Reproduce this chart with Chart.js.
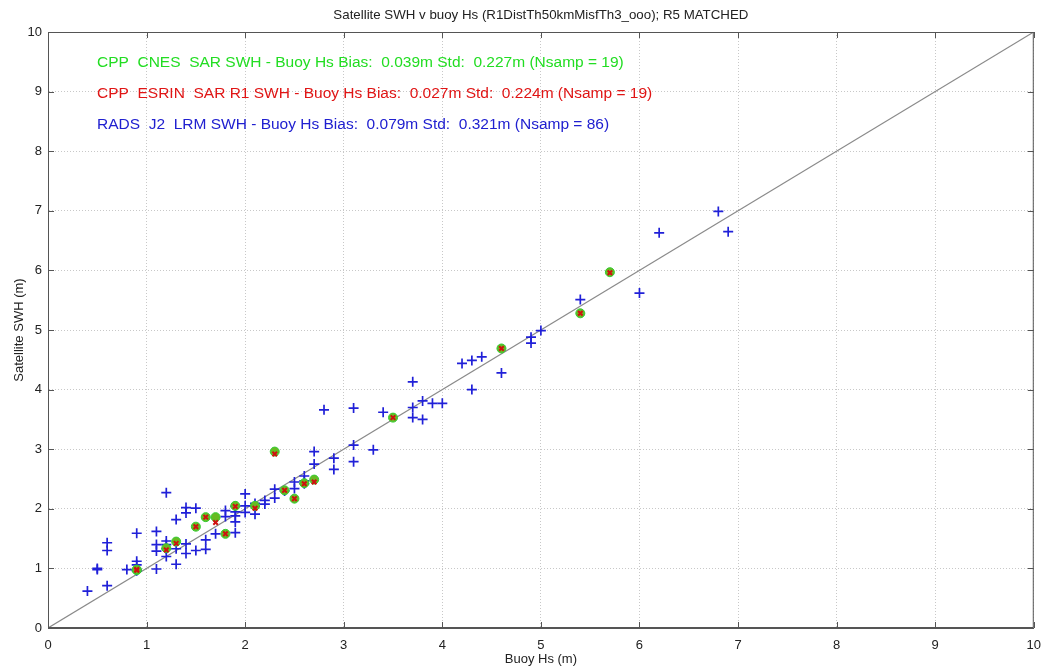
<!DOCTYPE html>
<html>
<head>
<meta charset="utf-8">
<script src="https://cdn.jsdelivr.net/npm/chart.js@4.4.1/dist/chart.umd.min.js"></script>
<style>
html,body{margin:0;padding:0;background:#fff;}
#wrap{position:relative;width:1051px;height:668px;}
</style>
</head>
<body>
<div id="wrap"><canvas id="c" width="1051" height="668"></canvas></div>
<script>
// ---- Data ----
const titleText = "Satellite SWH v buoy Hs (R1DistTh50kmMisfTh3_ooo); R5 MATCHED";
const xAxisLabel = "Buoy Hs (m)";
const yAxisLabel = "Satellite SWH (m)";
const tickValues = [0,1,2,3,4,5,6,7,8,9,10];
const statLines = [
  "CPP  CNES  SAR SWH - Buoy Hs Bias:  0.039m Std:  0.227m (Nsamp = 19)",
  "CPP  ESRIN  SAR R1 SWH - Buoy Hs Bias:  0.027m Std:  0.224m (Nsamp = 19)",
  "RADS  J2  LRM SWH - Buoy Hs Bias:  0.079m Std:  0.321m (Nsamp = 86)"
];

// RADS J2 LRM (blue +)
const radsX = [0.4,0.5,0.5,0.6,0.6,0.6,0.8,0.9,0.9,0.9,0.9,1.1,1.1,1.1,1.1,1.2,1.2,1.2,1.2,
  1.3,1.3,1.3,1.4,1.4,1.4,1.4,1.5,1.5,1.6,1.6,1.7,1.8,1.8,1.9,1.9,1.9,1.9,2.0,2.0,2.0,
  2.1,2.1,2.2,2.2,2.3,2.3,2.5,2.5,2.6,2.6,2.7,2.7,2.8,2.9,2.9,3.1,3.1,3.1,3.3,3.4,
  3.7,3.7,3.7,3.8,3.8,3.9,4.0,4.2,4.3,4.3,4.4,4.6,4.9,4.9,5.0,5.4,6.0,6.2,6.8,6.9,
  0.9,1.2,1.9,2.1,2.4,2.6];
const radsY = [0.62,0.98,1.00,1.43,1.30,0.71,0.98,1.59,1.12,1.06,0.96,1.62,1.40,1.29,0.99,2.27,1.46,1.40,1.20,
  1.82,1.33,1.07,2.02,1.93,1.41,1.25,2.01,1.30,1.48,1.32,1.58,1.97,1.87,1.95,1.88,1.78,1.60,2.25,2.05,1.94,
  2.09,1.91,2.14,2.08,2.33,2.18,2.45,2.34,2.55,2.47,2.96,2.75,3.66,2.85,2.66,3.69,3.07,2.79,2.99,3.62,
  4.13,3.70,3.53,3.81,3.50,3.77,3.77,4.44,4.49,4.00,4.55,4.28,4.88,4.78,4.99,5.51,5.62,6.63,6.99,6.65,
  0.98,1.33,2.04,2.04,2.30,2.42];

// CPP CNES SAR (green circles)
const cnesX = [0.9,0.9,1.2,1.3,1.5,1.6,1.7,1.8,1.9,2.1,2.3,2.4,2.5,2.6,2.7,3.5,4.6,5.4,5.7];
const cnesY = [0.97,0.98,1.34,1.45,1.70,1.86,1.86,1.58,2.05,2.05,2.96,2.31,2.17,2.43,2.49,3.53,4.69,5.28,5.97];

// CPP ESRIN SAR R1 (red x)
const esrinX = [0.9,0.9,1.2,1.3,1.5,1.6,1.7,1.8,1.9,2.1,2.3,2.4,2.5,2.6,2.7,3.5,4.6,5.4,5.7];
const esrinY = [0.97,0.98,1.31,1.42,1.70,1.86,1.77,1.58,2.04,2.01,2.92,2.31,2.17,2.42,2.45,3.53,4.69,5.28,5.96];

// 1:1 reference line end points
const refLineX = [0,10];
const refLineY = [0,10];

const toPts = (xs, ys) => xs.map((x,i)=>({x:x, y:ys[i]}));

const FONT = '"Liberation Sans", Arial, sans-serif';

const decor = {
  id: 'decor',
  afterDraw(chart) {
    const ctx = chart.ctx;
    const a = chart.chartArea;
    const xs = chart.scales.x, ys = chart.scales.y;
    ctx.save();
    // box
    ctx.strokeStyle = '#555';
    ctx.lineWidth = 1;
    ctx.strokeRect(a.left + 0.5, a.top + 0.5, a.right - a.left - 1, a.bottom - a.top - 1);
    // inward ticks on all sides
    ctx.beginPath();
    tickValues.forEach(v => {
      const px = Math.round(xs.getPixelForValue(v)) + 0.5;
      ctx.moveTo(px, a.bottom); ctx.lineTo(px, a.bottom - 6);
      ctx.moveTo(px, a.top); ctx.lineTo(px, a.top + 6);
      const py = Math.round(ys.getPixelForValue(v)) + 0.5;
      ctx.moveTo(a.left, py); ctx.lineTo(a.left + 6, py);
      ctx.moveTo(a.right, py); ctx.lineTo(a.right - 6, py);
    });
    ctx.stroke();
    // title
    ctx.fillStyle = '#222';
    ctx.font = '13.3px ' + FONT;
    ctx.textAlign = 'center';
    ctx.textBaseline = 'middle';
    ctx.fillText(titleText, (a.left + a.right) / 2, 15);
    // stats text
    const cols = ['#22dd22', '#e01515', '#2020d0'];
    const yPos = [63, 94, 125];
    ctx.font = '15.5px ' + FONT;
    ctx.textAlign = 'left';
    statLines.forEach((t, i) => {
      ctx.fillStyle = cols[i];
      ctx.fillText(t, 97, yPos[i]);
    });
    ctx.restore();
  }
};

new Chart(document.getElementById('c'), {
  type: 'scatter',
  data: {
    datasets: [
      {
        label: 'CPP ESRIN SAR R1',
        data: toPts(esrinX, esrinY),
        pointStyle: 'crossRot',
        pointRadius: 3.2,
        pointBorderWidth: 2,
        borderColor: '#d01010',
        backgroundColor: '#d01010'
      },
      {
        label: 'CPP CNES SAR',
        data: toPts(cnesX, cnesY),
        pointStyle: 'circle',
        pointRadius: 4.5,
        pointBorderWidth: 1,
        borderColor: '#33cc33',
        backgroundColor: '#66bb22'
      },
      {
        label: 'RADS J2 LRM',
        data: toPts(radsX, radsY),
        pointStyle: 'cross',
        pointRadius: 5,
        pointBorderWidth: 1.7,
        borderColor: '#2020d8',
        backgroundColor: '#2020d8'
      },
      {
        type: 'line',
        label: '1:1',
        data: toPts(refLineX, refLineY),
        borderColor: '#8a8a8a',
        borderWidth: 1.2,
        pointRadius: 0,
        fill: false
      }
    ]
  },
  options: {
    responsive: false,
    animation: false,
    events: [],
    layout: { padding: { left: 0, right: 8, top: 32, bottom: 0 } },
    plugins: { legend: { display: false }, title: { display: false }, tooltip: { enabled: false } },
    scales: {
      x: {
        type: 'linear', min: 0, max: 10,
        afterBuildTicks: s => { s.ticks = tickValues.map(v => ({value: v})); },
        afterFit: s => { s.height = 40; },
        grid: { color: '#c8c8c8', drawTicks: false, lineWidth: 1 },
        border: { display: true, color: '#555', dash: [1, 2] },
        ticks: { padding: 10, color: '#222', font: { family: FONT, size: 13 }, maxRotation: 0 },
        title: { display: true, text: xAxisLabel, color: '#222', font: { family: FONT, size: 13 }, padding: { top: 0, bottom: 1 } }
      },
      y: {
        type: 'linear', min: 0, max: 10,
        afterBuildTicks: s => { s.ticks = tickValues.map(v => ({value: v})); },
        afterFit: s => { s.width = 48; },
        grid: { color: '#c8c8c8', drawTicks: false, lineWidth: 1 },
        border: { display: true, color: '#555', dash: [1, 2] },
        ticks: { padding: 6, color: '#222', font: { family: FONT, size: 13 } },
        title: { display: true, text: yAxisLabel, color: '#222', font: { family: FONT, size: 13 }, padding: { top: 12, bottom: 4 } }
      }
    }
  },
  plugins: [decor]
});
</script>
</body>
</html>
